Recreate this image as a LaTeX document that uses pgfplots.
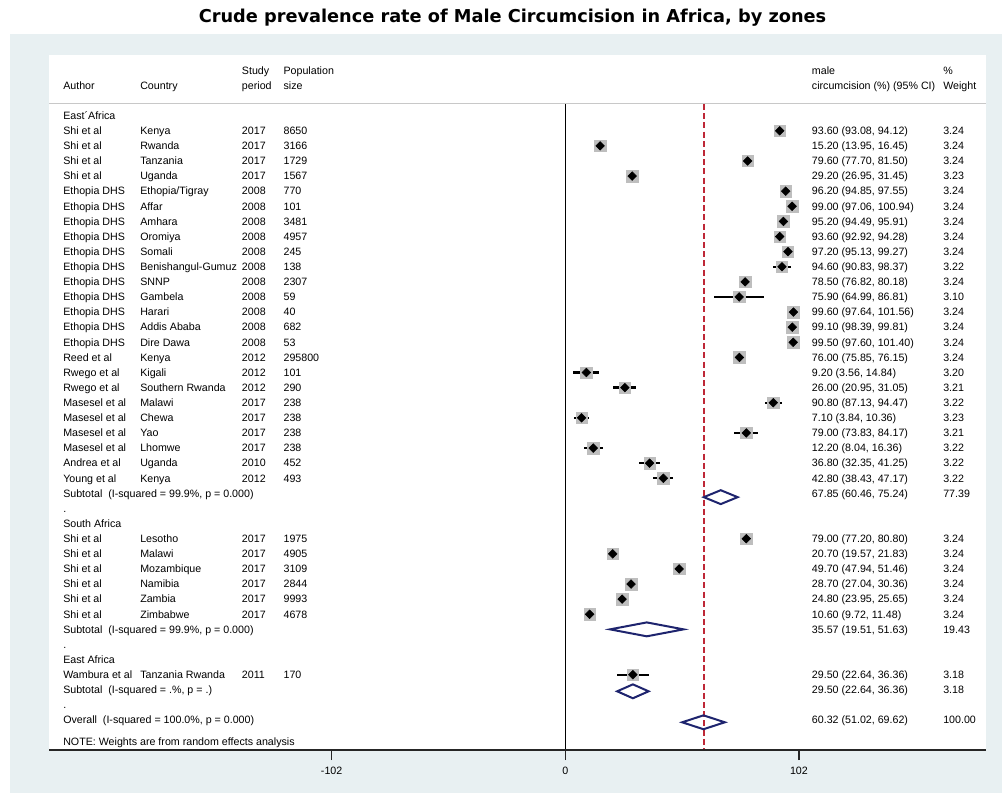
\documentclass[border=0pt]{standalone}
\usepackage{pgfplots}
\pgfplotsset{compat=1.18}
\usepackage{pgfplotstable}
\usepackage{fontspec}
\setmainfont{Liberation Sans}
\newfontfamily\titlefont{DejaVu Sans}
\definecolor{bgc}{RGB}{232,240,242}
\definecolor{navyd}{RGB}{30,36,110}
\definecolor{maroond}{RGB}{190,40,55}
\definecolor{boxg}{RGB}{190,190,190}
\definecolor{sepg}{RGB}{200,200,200}

\pgfplotstableread{
i e l u
1 93.60 93.08 94.12
2 15.20 13.95 16.45
3 79.60 77.70 81.50
4 29.20 26.95 31.45
5 96.20 94.85 97.55
6 99.00 97.06 100.94
7 95.20 94.49 95.91
8 93.60 92.92 94.28
9 97.20 95.13 99.27
10 94.60 90.83 98.37
11 78.50 76.82 80.18
12 75.90 64.99 86.81
13 99.60 97.64 101.56
14 99.10 98.39 99.81
15 99.50 97.60 101.40
16 76.00 75.85 76.15
17 9.20 3.56 14.84
18 26.00 20.95 31.05
19 90.80 87.13 94.47
20 7.10 3.84 10.36
21 79.00 73.83 84.17
22 12.20 8.04 16.36
23 36.80 32.35 41.25
24 42.80 38.43 47.17
28 79.00 77.20 80.80
29 20.70 19.57 21.83
30 49.70 47.94 51.46
31 28.70 27.04 30.36
32 24.80 23.95 25.65
33 10.60 9.72 11.48
37 29.50 22.64 36.36
}\studies

\tikzset{txt/.style={anchor=base west, inner sep=0pt, font=\fontsize{8}{9.6}\selectfont}}
\newcommand\RY[1]{115.6+15.11*#1+3.8}
\newcommand\RowT[7]{%
 \node[txt] at (63,{\RY{#1}}) {#2};
 \node[txt] at (140,{\RY{#1}}) {#3};
 \node[txt] at (241.7,{\RY{#1}}) {#4};
 \node[txt] at (283.3,{\RY{#1}}) {#5};
 \node[txt] at (811.7,{\RY{#1}}) {#6};
 \node[txt] at (943,{\RY{#1}}) {#7};
}
\newcommand\SubT[4]{%
 \node[txt] at (63,{\RY{#1}}) {#2};
 \node[txt] at (811.7,{\RY{#1}}) {#3};
 \node[txt] at (943,{\RY{#1}}) {#4};
}
\newcommand\LabT[2]{\node[txt] at (63,{\RY{#1}}) {#2};}

\begin{document}
\begin{tikzpicture}[x=0.75pt,y=-0.75pt]
\fill[white] (0,0) rectangle (1002,793);
\fill[bgc] (10,34.3) rectangle (1002,793);
\fill[white] (49,54.5) rectangle (986,750);
\node[font=\titlefont\bfseries\fontsize{13.3}{15}\selectfont, inner sep=0pt] at (512.5,18) {Crude prevalence rate of Male Circumcision in Africa, by zones};
\draw[sepg, line width=1.4pt] (49,103.5) -- (986,103.5);
\draw[black, line width=1.2pt] (565.3,104) -- (565.3,750);
\draw[maroond, line width=1.5pt, dash pattern=on 4.5pt off 2.4pt] (703.5,104) -- (703.5,750);

\begin{axis}[
  at={(36.75pt,-562.5pt)}, anchor=south west,
  scale only axis, width=702.75pt, height=521.6pt,
  xmin=-225.4, xmax=183.66, ymin=-41.985, ymax=4.044,
  axis y line=none, axis x line*=bottom,
  x axis line style={line width=1.4pt, black!85},
  xtick={-102,0,102}, xticklabels={-102,0,102},
  tick align=outside, major tick length=7.5pt,
  tick style={line width=1.1pt, black!85},
  xticklabel style={font=\fontsize{8}{9.6}\selectfont, yshift=-1.5pt},
  error bars/error bar style={line width=1.7pt, black},
  clip=false,
]
\addplot[only marks, mark=square*, mark size=4.3pt, boxg, mark options={draw=boxg, fill=boxg}] table[x=e, y expr=-\thisrow{i}] {\studies};
\addplot[only marks, black, mark=square*, mark size=2.3pt, mark options={rotate=45, fill=black, line width=0.4pt},
  error bars/.cd, x dir=both, x explicit, error mark=none]
  table[x=e, y expr=-\thisrow{i}, x error plus expr=\thisrow{u}-\thisrow{e}, x error minus expr=\thisrow{e}-\thisrow{l}] {\studies};
\addplot[navyd, line width=1.5pt, line join=miter] coordinates {(60.46,-25.25) (67.85,-24.79) (75.24,-25.25) (67.85,-25.71) (60.46,-25.25) (67.85,-24.79)};
\addplot[navyd, line width=1.5pt, line join=miter] coordinates {(19.51,-34.0) (35.57,-33.54) (51.63,-34.0) (35.57,-34.46) (19.51,-34.0) (35.57,-33.54)};
\addplot[navyd, line width=1.5pt, line join=miter] coordinates {(22.64,-38.1) (29.50,-37.64) (36.36,-38.1) (29.50,-38.56) (22.64,-38.1) (29.50,-37.64)};
\addplot[navyd, line width=1.5pt, line join=miter] coordinates {(51.02,-40.15) (60.32,-39.69) (69.62,-40.15) (60.32,-40.61) (51.02,-40.15) (60.32,-39.69)};
\end{axis}

% header
\node[txt] at (241.7,74.5) {Study};
\node[txt] at (283.3,74.5) {Population};
\node[txt] at (63,89.8) {Author};
\node[txt] at (140,89.8) {Country};
\node[txt] at (241.7,89.8) {period};
\node[txt] at (283.3,89.8) {size};
\node[txt] at (811.7,74.5) {male};
\node[txt] at (943,74.5) {\%};
\node[txt] at (811.7,89.8) {circumcision (\%) (95\% CI)};
\node[txt] at (943,89.8) {Weight};

\LabT{0}{East´Africa}
\RowT{1}{Shi et al}{Kenya}{2017}{8650}{93.60 (93.08, 94.12)}{3.24}
\RowT{2}{Shi et al}{Rwanda}{2017}{3166}{15.20 (13.95, 16.45)}{3.24}
\RowT{3}{Shi et al}{Tanzania}{2017}{1729}{79.60 (77.70, 81.50)}{3.24}
\RowT{4}{Shi et al}{Uganda}{2017}{1567}{29.20 (26.95, 31.45)}{3.23}
\RowT{5}{Ethopia DHS}{Ethopia/Tigray}{2008}{770}{96.20 (94.85, 97.55)}{3.24}
\RowT{6}{Ethopia DHS}{Affar}{2008}{101}{99.00 (97.06, 100.94)}{3.24}
\RowT{7}{Ethopia DHS}{Amhara}{2008}{3481}{95.20 (94.49, 95.91)}{3.24}
\RowT{8}{Ethopia DHS}{Oromiya}{2008}{4957}{93.60 (92.92, 94.28)}{3.24}
\RowT{9}{Ethopia DHS}{Somali}{2008}{245}{97.20 (95.13, 99.27)}{3.24}
\RowT{10}{Ethopia DHS}{Benishangul-Gumuz}{2008}{138}{94.60 (90.83, 98.37)}{3.22}
\RowT{11}{Ethopia DHS}{SNNP}{2008}{2307}{78.50 (76.82, 80.18)}{3.24}
\RowT{12}{Ethopia DHS}{Gambela}{2008}{59}{75.90 (64.99, 86.81)}{3.10}
\RowT{13}{Ethopia DHS}{Harari}{2008}{40}{99.60 (97.64, 101.56)}{3.24}
\RowT{14}{Ethopia DHS}{Addis Ababa}{2008}{682}{99.10 (98.39, 99.81)}{3.24}
\RowT{15}{Ethopia DHS}{Dire Dawa}{2008}{53}{99.50 (97.60, 101.40)}{3.24}
\RowT{16}{Reed et al}{Kenya}{2012}{295800}{76.00 (75.85, 76.15)}{3.24}
\RowT{17}{Rwego et al}{Kigali}{2012}{101}{9.20 (3.56, 14.84)}{3.20}
\RowT{18}{Rwego et al}{Southern Rwanda}{2012}{290}{26.00 (20.95, 31.05)}{3.21}
\RowT{19}{Masesel et al}{Malawi}{2017}{238}{90.80 (87.13, 94.47)}{3.22}
\RowT{20}{Masesel et al}{Chewa}{2017}{238}{7.10 (3.84, 10.36)}{3.23}
\RowT{21}{Masesel et al}{Yao}{2017}{238}{79.00 (73.83, 84.17)}{3.21}
\RowT{22}{Masesel et al}{Lhomwe}{2017}{238}{12.20 (8.04, 16.36)}{3.22}
\RowT{23}{Andrea et al}{Uganda}{2010}{452}{36.80 (32.35, 41.25)}{3.22}
\RowT{24}{Young et al}{Kenya}{2012}{493}{42.80 (38.43, 47.17)}{3.22}
\SubT{25}{Subtotal\ \ (I-squared = 99.9\%, p = 0.000)}{67.85 (60.46, 75.24)}{77.39}
\LabT{26}{.}
\LabT{27}{South Africa}
\RowT{28}{Shi et al}{Lesotho}{2017}{1975}{79.00 (77.20, 80.80)}{3.24}
\RowT{29}{Shi et al}{Malawi}{2017}{4905}{20.70 (19.57, 21.83)}{3.24}
\RowT{30}{Shi et al}{Mozambique}{2017}{3109}{49.70 (47.94, 51.46)}{3.24}
\RowT{31}{Shi et al}{Namibia}{2017}{2844}{28.70 (27.04, 30.36)}{3.24}
\RowT{32}{Shi et al}{Zambia}{2017}{9993}{24.80 (23.95, 25.65)}{3.24}
\RowT{33}{Shi et al}{Zimbabwe}{2017}{4678}{10.60 (9.72, 11.48)}{3.24}
\SubT{34}{Subtotal\ \ (I-squared = 99.9\%, p = 0.000)}{35.57 (19.51, 51.63)}{19.43}
\LabT{35}{.}
\LabT{36}{East Africa}
\RowT{37}{Wambura et al}{Tanzania Rwanda}{2011}{170}{29.50 (22.64, 36.36)}{3.18}
\SubT{38}{Subtotal\ \ (I-squared = .\%, p = .)}{29.50 (22.64, 36.36)}{3.18}
\LabT{39}{.}
\SubT{40}{Overall\ \ (I-squared = 100.0\%, p = 0.000)}{60.32 (51.02, 69.62)}{100.00}
\LabT{41.45}{NOTE: Weights are from random effects analysis}
\end{tikzpicture}
\end{document}
